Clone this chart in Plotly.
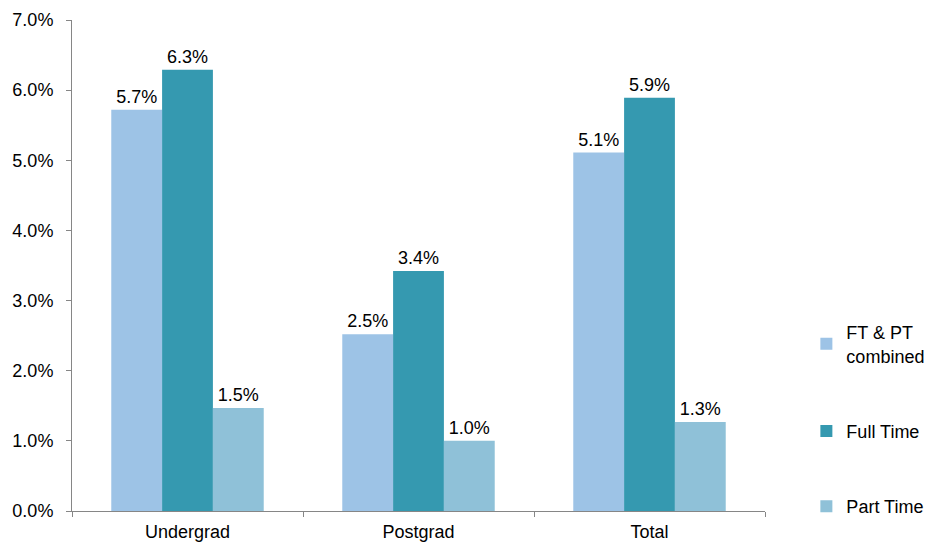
import plotly.graph_objects as go

categories = ["Undergrad", "Postgrad", "Total"]
series_names = ["FT & PT<br>combined", "Full Time", "Part Time"]
ft_pt = [0.0572, 0.0252, 0.0511]
full_time = [0.0629, 0.0342, 0.0589]
part_time = [0.0147, 0.0100, 0.0127]
colors = ["#9DC3E6", "#3599B0", "#8FC1D8"]

fig = go.Figure()
for name, vals, col in zip(series_names, [ft_pt, full_time, part_time], colors):
    fig.add_trace(go.Bar(
        x=categories, y=vals, name=name, marker_color=col,
        marker_line_width=0, legendgroup=name,
        text=vals, texttemplate="%{y:.1%}", textposition="outside",
        textfont=dict(size=18, color="black"), cliponaxis=False,
    ))

fig.update_layout(
    width=929, height=544,
    margin=dict(l=72, r=164, t=20, b=33),
    paper_bgcolor="white", plot_bgcolor="white",
    font=dict(family="Liberation Sans, Arial", size=18, color="black"),
    barmode="group", bargap=0.34, bargroupgap=0,
    showlegend=True,
    legend=dict(xref="container", yref="container",
                x=0.868, xanchor="left", y=0.423, yanchor="top",
                tracegroupgap=49, font=dict(size=18),
                itemwidth=30, traceorder="grouped"),
    xaxis=dict(showline=True, linecolor="#868686", linewidth=1,
               ticks="outside", tickson="boundaries", ticklen=5,
               tickcolor="#868686", showgrid=False, automargin=False,
               ticklabelstandoff=4),
    yaxis=dict(range=[0, 0.07], dtick=0.01, tickformat=".1%",
               showline=True, linecolor="#868686", linewidth=1,
               ticks="outside", ticklen=5, tickcolor="#868686",
               showgrid=False, zeroline=False, automargin=False,
               ticklabelstandoff=9),
)
fig.write_html("out.html")
